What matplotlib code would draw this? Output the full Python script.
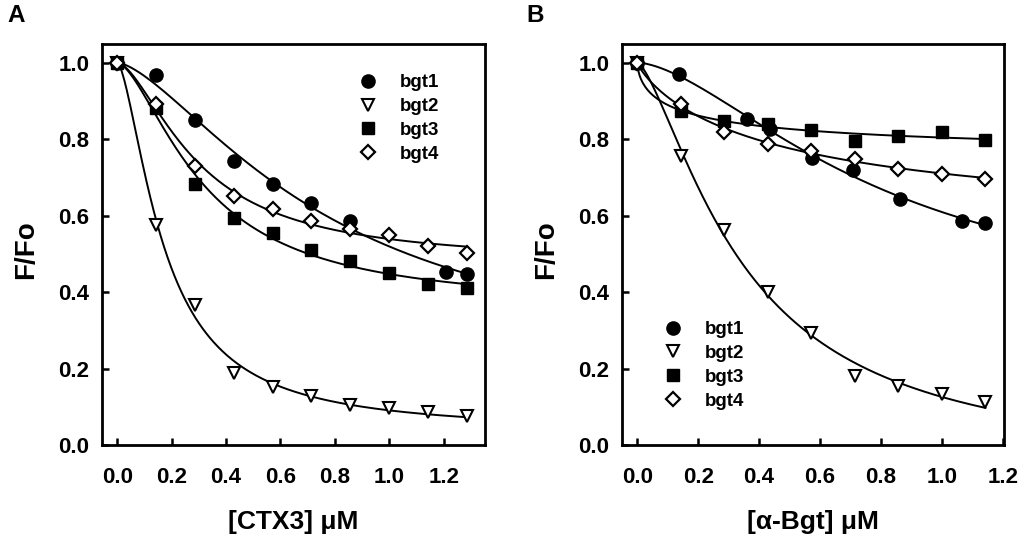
import numpy as np
import matplotlib
matplotlib.use("Agg")
import matplotlib.pyplot as plt

plt.rcParams['font.family'] = ['Liberation Sans', 'DejaVu Sans']
plt.rcParams['font.weight'] = 'bold'

series_names = ["bgt1", "bgt2", "bgt3", "bgt4"]

# Panel A: [CTX3]
a_x_bgt1 = [0.0, 0.143, 0.286, 0.429, 0.571, 0.714, 0.857, 1.21, 1.286]
a_y_bgt1 = [1.0, 0.967, 0.851, 0.742, 0.683, 0.633, 0.585, 0.453, 0.447]
a_x_std = [0.0, 0.143, 0.286, 0.429, 0.571, 0.714, 0.857, 1.0, 1.143, 1.286]
a_y_bgt2 = [1.0, 0.576, 0.365, 0.189, 0.151, 0.128, 0.105, 0.098, 0.086, 0.076]
a_y_bgt3 = [1.0, 0.881, 0.683, 0.593, 0.554, 0.509, 0.482, 0.449, 0.421, 0.410]
a_y_bgt4 = [1.0, 0.893, 0.729, 0.652, 0.617, 0.587, 0.565, 0.550, 0.521, 0.502]

# Panel B: [alpha-Bgt]
b_x_bgt1 = [0.0, 0.137, 0.359, 0.436, 0.573, 0.709, 0.863, 1.067, 1.14]
b_y_bgt1 = [1.0, 0.971, 0.853, 0.826, 0.750, 0.718, 0.644, 0.585, 0.580]
b_x_std = [0.0, 0.143, 0.286, 0.429, 0.571, 0.714, 0.857, 1.0, 1.143]
b_y_bgt2 = [1.0, 0.755, 0.563, 0.400, 0.294, 0.181, 0.153, 0.133, 0.113]
b_y_bgt3 = [1.0, 0.873, 0.848, 0.840, 0.825, 0.794, 0.807, 0.819, 0.797]
b_y_bgt4 = [1.0, 0.892, 0.818, 0.787, 0.770, 0.748, 0.722, 0.709, 0.696]

x_ticks = [0.0, 0.2, 0.4, 0.6, 0.8, 1.0, 1.2]
y_ticks = [0.0, 0.2, 0.4, 0.6, 0.8, 1.0]

markers = {"bgt1": dict(marker='o', mfc='black', mec='black', ms=9.5),
           "bgt2": dict(marker='v', mfc='white', mec='black', ms=8.5, mew=1.5),
           "bgt3": dict(marker='s', mfc='black', mec='black', ms=8.5),
           "bgt4": dict(marker='D', mfc='white', mec='black', ms=7.5, mew=1.6)}


def hill_fit(x, y):
    """Least-squares fit of y = 1 - A*x^n/(K^n + x^n) by grid search."""
    x = np.asarray(x, float)
    r = 1.0 - np.asarray(y, float)
    best = None
    for K in np.logspace(-2, 1.5, 250):
        for n in np.linspace(0.5, 3.5, 121):
            f = x ** n / (K ** n + x ** n)
            den = np.dot(f, f)
            if den == 0:
                continue
            A = np.dot(r, f) / den
            err = np.sum((r - A * f) ** 2)
            if best is None or err < best[0]:
                best = (err, A, K, n)
    _, A, K, n = best
    xs = np.linspace(0, x.max(), 300)
    return xs, 1.0 - A * xs ** n / (K ** n + xs ** n)


fig = plt.figure(figsize=(10.24, 5.41), dpi=100)
axA = fig.add_axes([102 / 1024, 96 / 541, 383 / 1024, 401.5 / 541])
axB = fig.add_axes([621.7 / 1024, 96 / 541, 382.3 / 1024, 401.5 / 541])

panels = [
    (axA, {"bgt1": (a_x_bgt1, a_y_bgt1), "bgt2": (a_x_std, a_y_bgt2),
           "bgt3": (a_x_std, a_y_bgt3), "bgt4": (a_x_std, a_y_bgt4)},
     (-0.0563, 1.352), "[CTX3] \u03bcM"),
    (axB, {"bgt1": (b_x_bgt1, b_y_bgt1), "bgt2": (b_x_std, b_y_bgt2),
           "bgt3": (b_x_std, b_y_bgt3), "bgt4": (b_x_std, b_y_bgt4)},
     (-0.0512, 1.204), "[\u03b1-Bgt] \u03bcM"),
]

handles = {}
for ax, data, xlim, xlabel in panels:
    for name in series_names:
        xv, yv = data[name]
        xs, ys = hill_fit(xv, yv)
        ax.plot(xs, ys, color='black', lw=1.4, zorder=2)
    for name in series_names:
        xv, yv = data[name]
        h, = ax.plot(xv, yv, ls='none', zorder=3, **markers[name])
        handles[(ax, name)] = h
    ax.set_xlim(*xlim)
    ax.set_ylim(0, 1.05)
    ax.set_xticks(x_ticks)
    ax.set_yticks(y_ticks)
    ax.set_xticklabels([f"{t:.1f}" for t in x_ticks])
    ax.set_yticklabels([f"{t:.1f}" for t in y_ticks])
    ax.tick_params(direction='in', length=5, width=1.8, labelsize=16,
                   top=False, right=False)
    ax.tick_params(axis='x', pad=16)
    ax.tick_params(axis='y', pad=9)
    for lab in ax.get_xticklabels() + ax.get_yticklabels():
        lab.set_fontweight('bold')
    for sp in ax.spines.values():
        sp.set_linewidth(2.0)
    ax.set_xlabel(xlabel, fontsize=19, fontweight='bold', labelpad=16)

leg_kw = dict(loc='upper left', frameon=False, prop=dict(size=13.5, weight='bold'),
              handletextpad=0.7, labelspacing=0.36, borderaxespad=0,
              handlelength=2.0)
axA.legend([handles[(axA, n)] for n in series_names], series_names,
           bbox_to_anchor=(0.625, 0.9425), **leg_kw)
axB.legend([handles[(axB, n)] for n in series_names], series_names,
           bbox_to_anchor=(0.065, 0.3275), **leg_kw)

fig.text(26 / 1024, 1 - 250 / 541, "F/Fo", rotation=90, ha='center', va='center',
         fontsize=20, fontweight='bold')
fig.text(546 / 1024, 1 - 250 / 541, "F/Fo", rotation=90, ha='center', va='center',
         fontsize=20, fontweight='bold')
fig.text(7 / 1024, 1 - 4 / 541, "A", ha='left', va='top', fontsize=17.5, fontweight='bold')
fig.text(526 / 1024, 1 - 4 / 541, "B", ha='left', va='top', fontsize=17.5, fontweight='bold')

fig.savefig("out.png", dpi=100)
